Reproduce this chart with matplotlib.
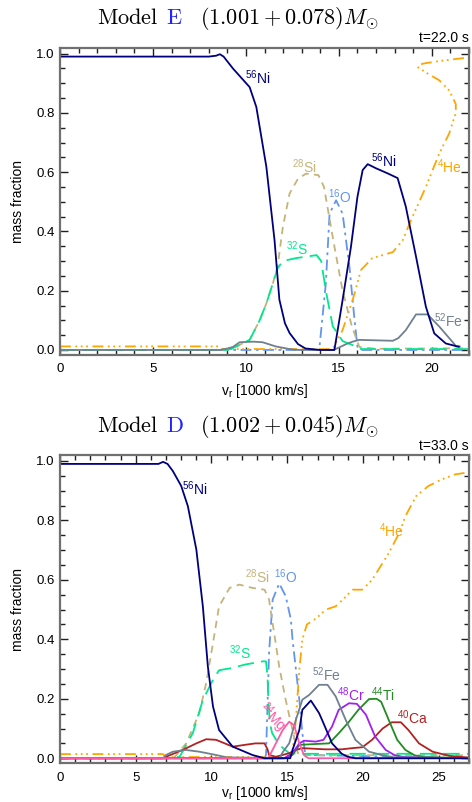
import matplotlib
matplotlib.use('Agg')
import matplotlib.pyplot as plt
from matplotlib.ticker import MultipleLocator

plt.rcParams['font.family'] = ['Liberation Sans', 'DejaVu Sans']
plt.rcParams['mathtext.fontset'] = 'custom'
plt.rcParams['mathtext.rm'] = 'Liberation Sans'
plt.rcParams['mathtext.it'] = 'Liberation Sans'
plt.rcParams['mathtext.bf'] = 'Liberation Sans:bold'

# ---------------- Model E (top) ----------------
ni_E_v = [0, 4, 8.0, 8.4, 8.6, 8.8, 9.3, 10.2, 10.56, 11.1, 11.54, 11.8, 12.1, 12.35, 12.8, 13.2, 14.0,
          14.76, 15.2, 15.65, 16.0, 16.28, 16.55, 17.0, 17.62, 18.16, 18.6, 19.15, 19.68, 20.13, 20.75, 21.3, 21.45]
ni_E_f = [0.99, 0.99, 0.99, 0.993, 0.998, 0.99, 0.95, 0.887, 0.82, 0.618, 0.37, 0.17, 0.09, 0.057, 0.02, 0.005, 0.0,
          0.0, 0.168, 0.348, 0.517, 0.607, 0.627, 0.613, 0.596, 0.58, 0.484, 0.315, 0.146, 0.056, 0.022, 0.013, 0.011]

si_E_v = [0, 9.0, 9.3, 10.2, 10.74, 11.1, 11.45, 11.7, 11.99, 12.35, 12.8, 13.24, 13.9, 14.2, 14.7, 15.2, 15.7, 16.1, 17.0, 22.0]
si_E_f = [0, 0, 0.006, 0.034, 0.1, 0.157, 0.225, 0.28, 0.416, 0.528, 0.578, 0.595, 0.59, 0.55, 0.37, 0.2, 0.08, 0.01, 0.004, 0.006]

s_E_v = [0, 9.0, 9.3, 10.2, 10.74, 11.1, 11.45, 11.7, 11.99, 12.7, 13.8, 14.05, 14.3, 14.67, 15.2, 15.8, 16.2, 22.0]
s_E_f = [0, 0, 0.006, 0.034, 0.1, 0.157, 0.225, 0.275, 0.3, 0.31, 0.32, 0.30, 0.2, 0.08, 0.03, 0.015, 0.003, 0.003]

o_E_v = [0, 13.9, 13.95, 14.3, 14.5, 14.85, 15.2, 15.57, 15.83, 16.0, 16.2, 22.0]
o_E_f = [0, 0, 0.005, 0.225, 0.46, 0.505, 0.46, 0.28, 0.11, 0.01, 0, 0]

he_E_v = [0, 8.6, 8.75, 14.67, 15.2, 15.74, 16.19, 16.8, 17.9, 18.43, 18.96, 19.68, 20.4, 20.93, 21.29, 21.29,
          20.93, 20.4, 19.77, 19.23, 19.5, 20.4, 21.83, 22.0]
he_E_f = [0.012, 0.012, 0.003, 0.003, 0.067, 0.168, 0.27, 0.31, 0.33, 0.37, 0.45, 0.55, 0.663, 0.73, 0.80, 0.83,
          0.876, 0.91, 0.933, 0.955, 0.966, 0.975, 0.986, 0.987]

fe_E_v = [0, 8.6, 9.0, 9.3, 9.66, 10.4, 10.9, 11.6, 12.35, 12.8, 14.7, 15.0, 15.4, 15.74, 16.1, 17.9, 18.2, 18.6,
          19.15, 19.77, 20.4, 21.1, 21.3, 21.5]
fe_E_f = [0, 0, 0.005, 0.01, 0.026, 0.028, 0.026, 0.012, 0.003, 0, 0, 0.008, 0.02, 0.028, 0.034, 0.031, 0.04, 0.067,
          0.12, 0.12, 0.079, 0.028, 0.013, 0.012]

# ---------------- Model D (bottom) ----------------
ni_D_v = [0, 6.0, 6.5, 6.8, 7.1, 7.45, 8.0, 8.44, 9.0, 9.43, 9.76, 10.1, 10.5, 11.4, 12.7, 13.5, 15.2, 15.35, 15.8,
          16.0, 16.56, 17.1, 17.3, 17.96, 18.6, 19.0, 19.5, 27]
ni_D_f = [0.99, 0.99, 0.99, 0.997, 0.99, 0.966, 0.916, 0.848, 0.702, 0.511, 0.309, 0.174, 0.095, 0.039, 0.011, 0, 0,
          0.028, 0.095, 0.163, 0.194, 0.152, 0.129, 0.05, 0.015, 0.005, 0, 0]

si_D_v = [0, 7.5, 8.33, 9.2, 9.65, 10.1, 10.5, 11.2, 11.84, 12.7, 13.5, 13.8, 14.14, 14.47, 14.9, 15.35, 15.7, 16.5, 27]
si_D_f = [0, 0, 0.05, 0.152, 0.253, 0.388, 0.511, 0.573, 0.584, 0.573, 0.567, 0.534, 0.42, 0.309, 0.196, 0.095, 0.017,
          0.01, 0.01]

s_D_v = [0, 7.3, 7.9, 8.77, 9.43, 10.1, 10.5, 11.4, 12.2, 13.4, 13.6, 13.7, 13.75, 13.85, 14.0, 14.47, 15.13, 16.0, 27]
s_D_f = [0, 0, 0.005, 0.085, 0.196, 0.264, 0.296, 0.304, 0.315, 0.326, 0.326, 0.275, 0.2, 0.12, 0.085, 0.045, 0.017,
         0.015, 0.015]

o_D_v = [0, 13.5, 13.6, 13.8, 14.04, 14.47, 14.9, 15.24, 15.35, 15.8, 16.0, 16.2, 27]
o_D_f = [0, 0, 0.011, 0.354, 0.534, 0.588, 0.545, 0.467, 0.4, 0.196, 0.084, 0.011, 0]

mg_D_v = [0, 13.7, 13.8, 14.25, 14.7, 15.13, 15.46, 15.8, 16.1, 16.4, 27]
mg_D_f = [0, 0, 0.005, 0.05, 0.095, 0.123, 0.111, 0.05, 0.011, 0, 0]

fe_D_v = [0, 6.8, 7.0, 7.45, 8.3, 9.2, 10.3, 11.0, 14.5, 14.7, 15.13, 15.57, 16.0, 16.45, 17.1, 17.66, 18.2, 18.86,
          19.5, 20.4, 21.3, 22.0, 27]
fe_D_f = [0, 0, 0.011, 0.022, 0.028, 0.022, 0.011, 0.003, 0, 0.02, 0.05, 0.129, 0.197, 0.213, 0.247, 0.247, 0.208,
          0.129, 0.062, 0.022, 0.01, 0.003, 0]

cr_D_v = [0, 14.8, 15.35, 15.8, 16.1, 16.9, 17.4, 17.96, 18.4, 19.08, 19.6, 20.2, 20.8, 21.5, 22.1, 22.8, 27]
cr_D_f = [0, 0, 0.017, 0.05, 0.059, 0.056, 0.062, 0.107, 0.163, 0.185, 0.183, 0.146, 0.073, 0.028, 0.01, 0.003, 0]

ti_D_v = [0, 14.8, 15.35, 15.8, 16.9, 17.76, 18.4, 19.08, 19.7, 20.4, 20.9, 21.2, 21.7, 22.26, 22.8, 23.4, 24.0, 27]
ti_D_f = [0, 0, 0.011, 0.045, 0.048, 0.05, 0.084, 0.123, 0.163, 0.199, 0.2, 0.19, 0.129, 0.062, 0.028, 0.01, 0.004, 0]

ca_D_v = [0, 6.8, 7.0, 8.1, 9.0, 9.65, 10.3, 11.4, 12.2, 12.9, 13.5, 13.7, 13.8, 14.25, 15.13, 15.57, 16.0, 17.5,
          18.6, 19.3, 19.96, 20.6, 21.3, 21.9, 22.5, 23.0, 23.7, 24.6, 25.7, 26.8, 27]
ca_D_f = [0, 0, 0.005, 0.028, 0.05, 0.064, 0.062, 0.039, 0.045, 0.05, 0.05, 0.03, 0.011, 0.005, 0.017, 0.028, 0.034,
          0.03, 0.03, 0.034, 0.037, 0.062, 0.1, 0.121, 0.121, 0.095, 0.05, 0.022, 0.008, 0.003, 0.003]

he_D_v = [0, 6.8, 7.0, 15.0, 15.35, 15.57, 15.8, 16.0, 16.3, 16.9, 17.55, 18.2, 18.9, 19.3, 19.96, 20.6, 21.3, 21.7,
          22.4, 22.8, 23.5, 24.3, 25.2, 26.1, 26.75, 27]
he_D_f = [0.014, 0.014, 0.004, 0.004, 0.02, 0.129, 0.298, 0.4, 0.45, 0.47, 0.5, 0.511, 0.545, 0.567, 0.567, 0.6,
          0.657, 0.69, 0.758, 0.814, 0.881, 0.915, 0.938, 0.955, 0.96, 0.962]

# colours / styles per species
c_ni, c_si, c_s, c_o = '#00007f', '#c4b47a', '#00e88c', '#6495ed'
c_he, c_fe, c_cr, c_ti, c_ca, c_mg = '#ffa500', '#708090', '#a020f0', '#228b22', '#b22222', '#ff5aa5'
ls_si = (0, (4, 3))
ls_s = (0, (9, 4))
ls_o = (0, (6, 2.5, 1.5, 2.5))
ls_he = (0, (6, 2.5, 1, 2, 1, 2, 1, 2.5))
lw = 1.3

fig = plt.figure(figsize=(4.72, 8.02), dpi=100)
W, H = 472.0, 802.0
axE = fig.add_axes([60 / W, 1 - 355 / H, 409 / W, 307.3 / H])
axD = fig.add_axes([60 / W, 1 - 763.3 / H, 409 / W, 308.3 / H])

# top
axE.plot(o_E_v, o_E_f, color=c_o, ls=ls_o, lw=lw)
axE.plot(he_E_v, he_E_f, color=c_he, ls=ls_he, lw=lw)
axE.plot(si_E_v, si_E_f, color=c_si, ls=ls_si, lw=lw)
axE.plot(s_E_v, s_E_f, color=c_s, ls=ls_s, lw=lw)
axE.plot(fe_E_v, fe_E_f, color=c_fe, lw=lw)
axE.plot(ni_E_v, ni_E_f, color=c_ni, lw=lw)

# bottom
axD.plot(o_D_v, o_D_f, color=c_o, ls=ls_o, lw=lw)
axD.plot(he_D_v, he_D_f, color=c_he, ls=ls_he, lw=lw)
axD.plot(si_D_v, si_D_f, color=c_si, ls=ls_si, lw=lw)
axD.plot(s_D_v, s_D_f, color=c_s, ls=ls_s, lw=lw)
axD.plot(ca_D_v, ca_D_f, color=c_ca, lw=lw)
axD.plot(ti_D_v, ti_D_f, color=c_ti, lw=lw)
axD.plot(cr_D_v, cr_D_f, color=c_cr, lw=lw)
axD.plot(fe_D_v, fe_D_f, color=c_fe, lw=lw)
axD.plot(mg_D_v, mg_D_f, color=c_mg, lw=lw)
axD.plot(ni_D_v, ni_D_f, color=c_ni, lw=lw)

lbl = dict(fontsize=10, ha='left', va='center')
axE.text(9.93, 0.92, r'$^{56}$Ni', color=c_ni, **lbl)
axE.text(12.49, 0.618, r'$^{28}$Si', color=c_si, **lbl)
axE.text(14.4, 0.517, r'$^{16}$O', color=c_o, **lbl)
axE.text(12.17, 0.343, r'$^{32}$S', color=c_s, **lbl)
axE.text(16.73, 0.64, r'$^{56}$Ni', color=c_ni, **lbl)
axE.text(20.3, 0.62, r'$^{4}$He', color=c_he, **lbl)
axE.text(20.13, 0.10, r'$^{52}$Fe', color=c_fe, **lbl)

axD.text(8.07, 0.905, r'$^{56}$Ni', color=c_ni, **lbl)
axD.text(12.24, 0.612, r'$^{28}$Si', color=c_si, **lbl)
axD.text(14.14, 0.612, r'$^{16}$O', color=c_o, **lbl)
axD.text(11.14, 0.354, r'$^{32}$S', color=c_s, **lbl)
axD.text(16.66, 0.281, r'$^{52}$Fe', color=c_fe, **lbl)
axD.text(18.3, 0.213, r'$^{48}$Cr', color=c_cr, **lbl)
axD.text(20.5, 0.213, r'$^{44}$Ti', color=c_ti, **lbl)
axD.text(22.26, 0.135, r'$^{40}$Ca', color=c_ca, **lbl)
axD.text(21.05, 0.764, r'$^{4}$He', color=c_he, **lbl)
axD.text(13.75, 0.2, r'$^{24}$Mg', color=c_mg, fontsize=10, ha='left', va='top', rotation=-45,
         rotation_mode='anchor')

for ax, xmax, tlabel, xlab_y in [(axE, 22, 't=22.0 s', -0.087), (axD, 27, 't=33.0 s', -0.066)]:
    ax.set_xlim(0, xmax)
    ax.set_ylim(-0.017, 1.02)
    ax.xaxis.set_major_locator(MultipleLocator(5))
    ax.xaxis.set_minor_locator(MultipleLocator(1))
    ax.yaxis.set_major_locator(MultipleLocator(0.2))
    ax.yaxis.set_minor_locator(MultipleLocator(0.05))
    ax.yaxis.set_major_formatter(plt.FormatStrFormatter('%.1f'))
    ax.tick_params(which='both', direction='in', top=True, right=True, labelsize=9.5, color='#202020')
    ax.tick_params(which='major', length=6, width=1)
    ax.tick_params(which='minor', length=3.5, width=1)
    ax.tick_params(axis='x', pad=6)
    ax.tick_params(axis='y', pad=4)
    for sp in ax.spines.values():
        sp.set_linewidth(1.6)
        sp.set_color('#707070')
    ax.set_ylabel('mass fraction', fontsize=10)
    ax.set_xlabel(r'v$_{\rm r}$ [1000 km/s]', fontsize=10)
    ax.yaxis.set_label_coords(-0.085, 0.5)
    ax.xaxis.set_label_coords(0.5, xlab_y)
    ax.text(1.0, 1.008, tlabel, transform=ax.transAxes, ha='right', va='bottom', fontsize=10)

# titles
for ypx, model, masses in [(18, 'E', '(1.001 + 0.078)'), (426, 'D', '(1.002 + 0.045)')]:
    yy = 1 - ypx / H
    fig.text(97 / W, yy, r'$\mathrm{Model}$', fontsize=16, va='center', ha='left', math_fontfamily='cm')
    fig.text(166 / W, yy, r'$\mathrm{' + model + '}$', fontsize=16, va='center', ha='left',
             color='#2323ff', math_fontfamily='cm')
    fig.text(200 / W, yy, r'$' + masses + r'M_{\odot}$', fontsize=16, va='center', ha='left',
             math_fontfamily='cm')

fig.savefig('out.png', dpi=100)
